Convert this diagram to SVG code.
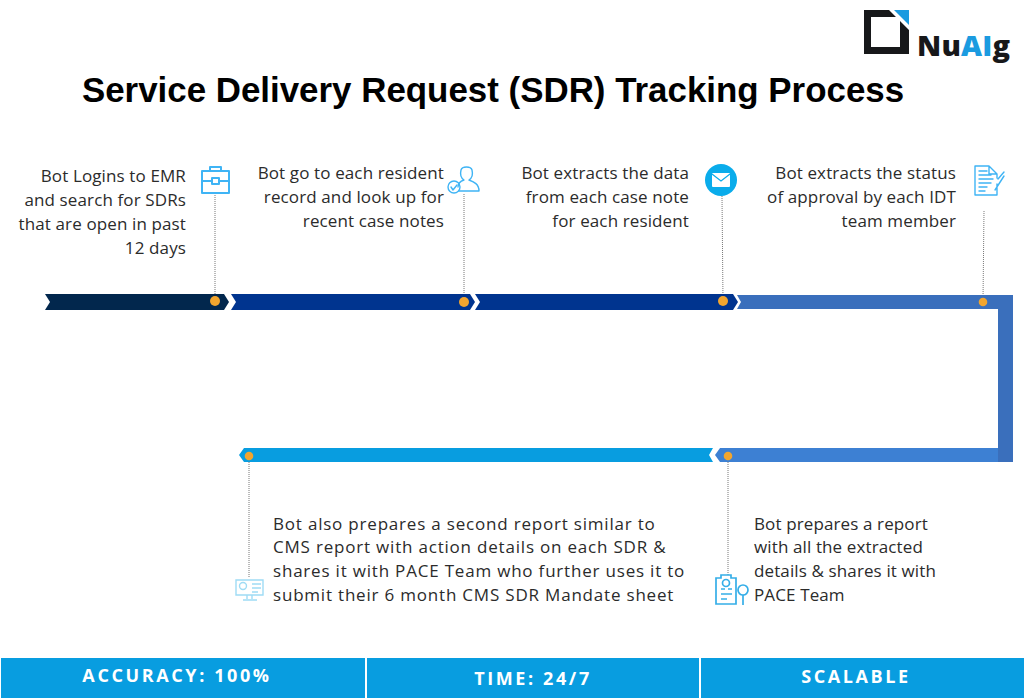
<svg xmlns="http://www.w3.org/2000/svg" width="1024" height="698" viewBox="0 0 1024 698">
<style>
.t{font-family:"Open Sans","Noto Sans",sans-serif;font-size:17px;fill:#2b2b2b;letter-spacing:.12px}
.w{letter-spacing:.8px}
.r{text-anchor:end}
.f{font-family:"Open Sans","Noto Sans",sans-serif;font-size:18px;font-weight:700;fill:#fff;letter-spacing:2.6px;text-anchor:middle}
.d{fill:#f2a52e}
.c{stroke:#777;stroke-width:1;stroke-dasharray:1 1;fill:none}
.i{fill:none;stroke:#3fb4f5;stroke-width:2;stroke-linejoin:round;stroke-linecap:round}
.n{stroke-width:1.4}
.p{fill:none;stroke:#9fdcf5;stroke-width:1.4}
.k{fill:none;stroke:#35aee8;stroke-width:1.7}
</style>
<rect width="1024" height="698" fill="#fff"/>
<g id="logo">
<path d="M864 10H889L896 17H871V47H900V21L909 30V54H864Z" fill="#17181a"/>
<path d="M894 10H909V25Z" fill="#1b9be0"/>
<text x="917" y="56" font-family="'Open Sans',sans-serif" font-size="29" font-weight="800" letter-spacing=".2" fill="#17181a">Nu<tspan fill="#1b9be0">AI</tspan>g</text>
</g>
<text id="title" x="493" y="102" text-anchor="middle" font-family="'Liberation Sans',Arial,sans-serif" font-size="34.9" font-weight="700" fill="#000">Service Delivery Request (SDR) Tracking Process</text>
<g id="connectors">
<path class="c" d="M215 195V301"/><path class="c" d="M464 194V301"/><path class="c" d="M722 196L723 301"/><path class="c" d="M984 211L983 301"/><path class="c" d="M728 456V575"/><path class="c" d="M249 456V578"/>
</g>
<g id="track">
<path id="seg1" d="M45 294H224L229 302L224 310H45L50 302Z" fill="#02274d"/>
<path id="seg2" d="M231 294H470L475 302L470 310H231L236 302Z" fill="#00348f"/>
<path id="seg3" d="M475 294H733L738 302L733 310H475L480 302Z" fill="#00348f"/>
<path id="seg4" d="M737 295H1013V462H998V309H737L741 302Z" fill="#3a6fbc"/>
<path id="seg5" d="M720 448H998V462H720L715 455Z" fill="#3d80d3"/>
<path id="seg6" d="M998 448H1013V462H998Z" fill="#3a6fbc"/>
<path id="seg7" d="M244 448H713L709 455L713 462H244L239 455Z" fill="#089de0"/>
<circle class="d" cx="215" cy="301" r="5"/><circle class="d" cx="464" cy="302" r="5"/><circle class="d" cx="723" cy="301" r="5"/><circle class="d" cx="983" cy="302" r="4.3"/><circle class="d" cx="728" cy="456" r="4.3"/><circle class="d" cx="249" cy="456" r="4.3"/>
</g>
<g id="step1">
<path class="i" d="M202 171H229V193H202ZM202 181H211M220 181H229M210 171V167H221V171M212 178H219V184H212Z"/>
<text class="t r"><tspan x="186" y="182">Bot Logins to EMR</tspan><tspan x="186" y="206">and search for SDRs</tspan><tspan x="186" y="230">that are open in past</tspan><tspan x="186" y="254">12 days</tspan></text>
</g>
<g id="step2">
<path class="i n" d="M458 187C458 183 461 181 464 180C461 178 460 174 461 170C462 166 471 166 472 170C473 174 472 178 469 180C474 182 479 184 479 191H459"/>
<circle class="i n" cx="454" cy="187" r="6"/><path class="i n" d="M451 187L453 190L457 185"/>
<text class="t r"><tspan x="444" y="179">Bot go to each resident</tspan><tspan x="444" y="203">record and look up for</tspan><tspan x="444" y="227">recent case notes</tspan></text>
</g>
<g id="step3">
<circle cx="721" cy="180" r="16" fill="#0aaceb"/><rect x="712" y="173" width="18" height="14" rx="1" fill="#fff"/><path d="M712 174L721 181L730 174" fill="none" stroke="#0aaceb" stroke-width="1.2"/>
<text class="t r"><tspan x="689" y="179">Bot extracts the data</tspan><tspan x="689" y="203">from each case note</tspan><tspan x="689" y="227">for each resident</tspan></text>
</g>
<g id="step4">
<path class="i n" d="M997 184V195H975V166H989L997 174V178M989 166V174H997M979 171H987M979 175H991M979 179H993M979 183H991M979 187H987M979 191H985M998 179L1004 172M997 187L995 190L1004 176"/>
<text class="t r"><tspan x="956" y="179">Bot extracts the status</tspan><tspan x="956" y="203">of approval by each IDT</tspan><tspan x="956" y="227">team member</tspan></text>
</g>
<g id="step5">
<path class="k" d="M716 578H721V575H731V578H736V604H716ZM721 589H725M728 589H732M721 594H732M721 599H727"/><circle class="k" cx="726" cy="583" r="3.5"/>
<circle class="k" cx="743" cy="590" r="5"/><path class="k" d="M743 595V605" stroke-width="2.2"/>
<text class="t"><tspan x="754" y="530">Bot prepares a report</tspan><tspan x="754" y="553">with all the extracted</tspan><tspan x="754" y="577">details &amp; shares it with</tspan><tspan x="754" y="601">PACE Team</tspan></text>
</g>
<g id="step6">
<path class="p" d="M236 580H263V595H236ZM247 595V599M252 595V599M243 600H257M252 584H261M252 588H261M252 592H258"/><circle class="p" cx="243" cy="586" r="3.5"/>
<text class="t w"><tspan x="273" y="530">Bot also prepares a second report similar to</tspan><tspan x="273" y="553">CMS report with action details on each SDR &amp;</tspan><tspan x="273" y="577">shares it with PACE Team who further uses it to</tspan><tspan x="273" y="601">submit their 6 month CMS SDR Mandate sheet</tspan></text>
</g>
<g id="footer">
<g id="accuracy"><rect x="1" y="658" width="364" height="40" fill="#089de0"/><text class="f" x="177" y="682">ACCURACY: 100%</text></g>
<g id="time"><rect x="367" y="658" width="332" height="40" fill="#089de0"/><text class="f" x="533" y="685">TIME: 24/7</text></g>
<g id="scalable"><rect x="701" y="658" width="323" height="40" fill="#089de0"/><text class="f" x="856" y="683">SCALABLE</text></g>
</g>
</svg>
